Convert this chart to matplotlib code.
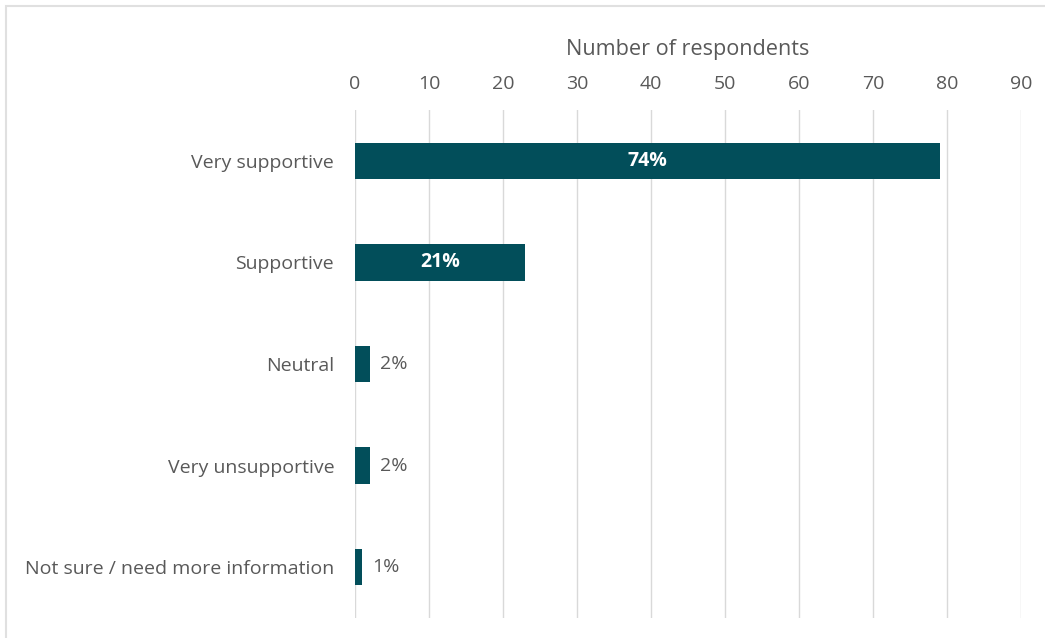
import matplotlib.pyplot as plt
from matplotlib.patches import Rectangle

# data
categories = ['Very supportive', 'Supportive', 'Neutral', 'Very unsupportive',
              'Not sure / need more information']
counts = [79, 23, 2, 2, 1]
pct_labels = ['74%', '21%', '2%', '2%', '1%']

bar_color = '#024E5A'
text_color = '#595959'

plt.rcParams['font.family'] = ['Open Sans', 'DejaVu Sans']

fig = plt.figure(figsize=(10.45, 6.38), dpi=100)
ax = fig.add_axes([355 / 1045, 1 - 618 / 638, (1021 - 355) / 1045, (618 - 110) / 638])

ypos = list(range(len(categories)))
bars = ax.barh(ypos, counts, height=0.36, color=bar_color, zorder=3)

ax.set_xlim(0, 90)
ax.set_ylim(len(categories) - 0.5, -0.5)
ax.set_xticks(range(0, 91, 10))
ax.set_yticks(ypos)
ax.set_yticklabels(categories)
ax.xaxis.tick_top()
ax.xaxis.set_label_position('top')
ax.set_xlabel('Number of respondents', fontsize=15.6, color=text_color, labelpad=14)
ax.tick_params(axis='x', length=0, pad=12.5, labelsize=14, labelcolor=text_color)
ax.tick_params(axis='y', length=0, pad=15, labelsize=14, labelcolor=text_color)
ax.grid(axis='x', color='#D9D9D9', linewidth=1, zorder=0)
for s in ax.spines.values():
    s.set_visible(False)

# percent labels: inside for big bars, outside for small ones
for b, v, lab in zip(bars, counts, pct_labels):
    yc = b.get_y() + b.get_height() / 2
    if v > 10:
        ax.text(v / 2, yc, lab, ha='center', va='center', color='white',
                fontsize=14, fontweight='bold', zorder=4)
    else:
        ax.annotate(lab, (v, yc), xytext=(7, 0), textcoords='offset points',
                    ha='left', va='center', color=text_color, fontsize=14)

# light frame around the chart
fig.patches.append(Rectangle((6 / 1045, -0.05), 1.1, 1 - 6 / 638 + 0.05,
                             transform=fig.transFigure, fill=False,
                             edgecolor='#E0E0E0', linewidth=1.5))

fig.savefig('out.png', dpi=100, facecolor='white')
